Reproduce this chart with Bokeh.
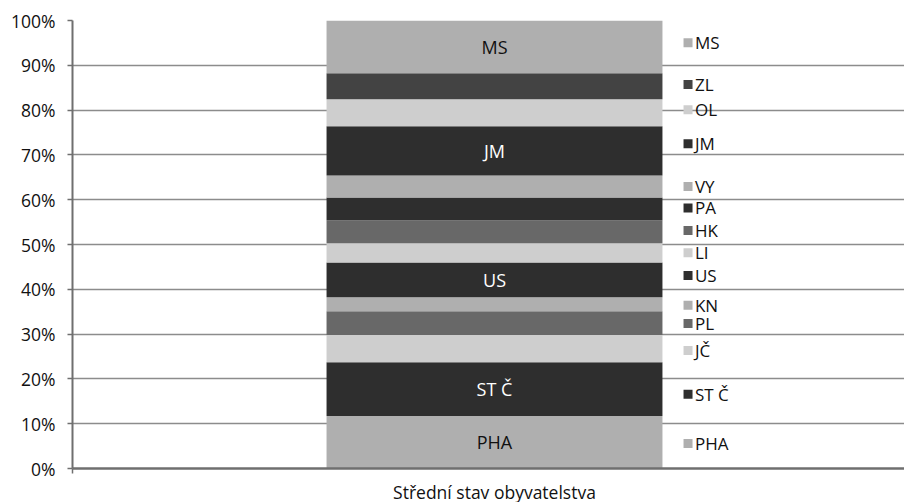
from bokeh.plotting import figure
from bokeh.models import Range1d, FixedTicker, PrintfTickFormatter, ColumnDataSource
from bokeh.core.properties import value
from bokeh.embed import file_html
from bokeh.resources import INLINE

# data (bottom to top of the stacked bar), shares in %
regions = ["PHA", "ST Č", "JČ", "PL", "KN", "US", "LI", "HK", "PA", "VY", "JM", "OL", "ZL", "MS"]
shares = [11.7, 12.0, 6.1, 5.3, 3.1, 7.8, 4.3, 5.1, 5.1, 4.9, 11.0, 6.0, 5.85, 11.75]
colors = ["#afafaf", "#2e2e2e", "#cecece", "#686868", "#afafaf", "#2e2e2e", "#cecece",
          "#686868", "#2e2e2e", "#afafaf", "#2e2e2e", "#cecece", "#434343", "#afafaf"]
inner_labels = ["PHA", "ST Č", "", "", "", "US", "", "", "", "", "JM", "", "", "MS"]
inner_label_colors = ["#111111", "#ffffff", "#ffffff", "#ffffff", "#ffffff", "#ffffff", "#ffffff",
                      "#ffffff", "#ffffff", "#ffffff", "#ffffff", "#ffffff", "#ffffff", "#111111"]
legend_nudge = [-0.25, -1.1, -0.4, -0.1, -0.2, 1.0, 0.0, 0.3, 0.2, 0.0, 1.6, 0.7, 0.4, 0.9]
category = "Střední stav obyvatelstva"
y_ticks = [0, 10, 20, 30, 40, 50, 60, 70, 80, 90, 100]

FONT = "Open Sans"

bottoms, tops, mids = [], [], []
acc = 0.0
for s in shares:
    bottoms.append(acc)
    acc += s
    tops.append(acc)
    mids.append((bottoms[-1] + tops[-1]) / 2)
legend_y = [m + n for m, n in zip(mids, legend_nudge)]

cat_x = 0.5
bar_w = 0.398
leg_marker_x = 0.7293
leg_text_x = 0.7375

src = ColumnDataSource(dict(
    region=regions, bottom=bottoms, top=tops, mid=mids, color=colors,
    inner=inner_labels, inner_color=inner_label_colors, leg_y=legend_y,
    x=[cat_x] * len(regions), mx=[leg_marker_x] * len(regions), tx=[leg_text_x] * len(regions),
))

p = figure(frame_width=832, frame_height=448, output_backend="svg", toolbar_location=None,
           x_range=Range1d(0, 832 / 844), y_range=Range1d(0, 100),
           min_border_left=72, min_border_right=0, min_border_top=20, min_border_bottom=34)
p.outline_line_color = None
p.background_fill_color = "white"

# axes
p.yaxis.ticker = FixedTicker(ticks=y_ticks)
p.yaxis.formatter = PrintfTickFormatter(format="%d%%")
p.yaxis.axis_line_color = "#6f6f6f"
p.yaxis.axis_line_width = 2
p.yaxis.major_tick_line_color = "#6f6f6f"
p.yaxis.major_tick_line_width = 1.5
p.yaxis.major_tick_out = 5
p.yaxis.major_tick_in = 0
p.yaxis.minor_tick_line_color = None
p.yaxis.major_label_standoff = 12
p.yaxis.major_label_text_font = FONT
p.yaxis.major_label_text_font_size = "17.5px"
p.yaxis.major_label_text_color = "#111111"

p.xaxis.ticker = FixedTicker(ticks=[cat_x], minor_ticks=[0])
p.xaxis.major_label_overrides = {cat_x: category}
p.xaxis.axis_line_color = "#6f6f6f"
p.xaxis.axis_line_width = 2.5
p.xaxis.major_tick_line_color = None
p.xaxis.minor_tick_line_color = "#6f6f6f"
p.xaxis.minor_tick_line_width = 1.5
p.xaxis.minor_tick_out = 5
p.xaxis.minor_tick_in = 0
p.xaxis.major_label_standoff = 5
p.xaxis.major_label_text_font = FONT
p.xaxis.major_label_text_font_size = "17.5px"
p.xaxis.major_label_text_color = "#111111"

p.xgrid.grid_line_color = None
p.ygrid.ticker = FixedTicker(ticks=y_ticks[1:])
p.ygrid.grid_line_color = "#8c8c8c"
p.ygrid.grid_line_width = 1.5

# stacked bar
p.vbar(x="x", width=bar_w, bottom="bottom", top="top", fill_color="color",
       line_color=None, source=src)

# labels inside the bar
p.text(x="x", y="mid", text="inner", text_color="inner_color", source=src,
       text_align="center", text_baseline="middle",
       text_font=value(FONT), text_font_size="18px")

# legend-like labels at the right
p.scatter(x="mx", y="leg_y", marker="square", size=9, fill_color="color",
          line_color=None, source=src)
p.text(x="tx", y="leg_y", text="region", source=src, text_color="#111111",
       text_align="left", text_baseline="middle",
       text_font=value(FONT), text_font_size="17px")

open("out.html", "w").write(file_html(p, INLINE))
